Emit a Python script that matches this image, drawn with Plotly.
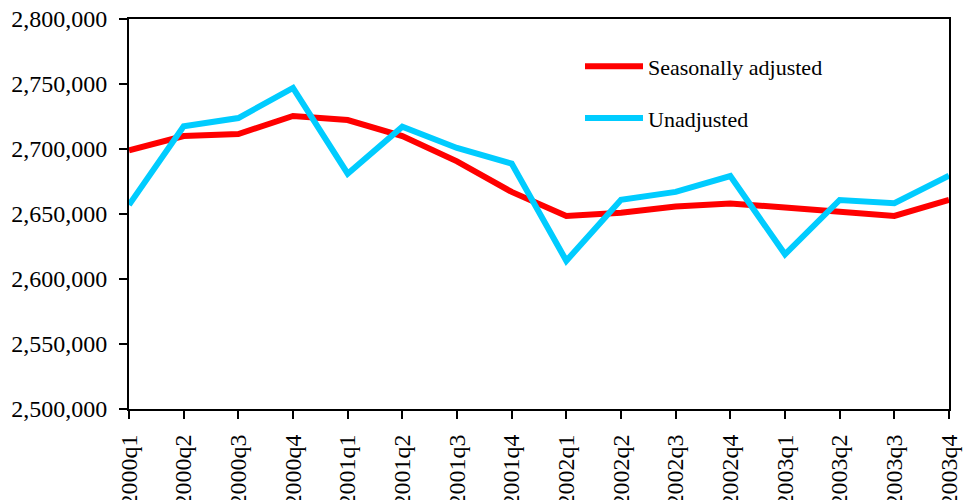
import plotly.graph_objects as go

quarters = ["2000q1", "2000q2", "2000q3", "2000q4",
            "2001q1", "2001q2", "2001q3", "2001q4",
            "2002q1", "2002q2", "2002q3", "2002q4",
            "2003q1", "2003q2", "2003q3", "2003q4"]

seasonally_adjusted = [2699000, 2710000, 2711500, 2725400,
                       2722300, 2710000, 2690500, 2667000,
                       2648500, 2651000, 2655800, 2658000,
                       2655000, 2651500, 2648500, 2660800]

unadjusted = [2657000, 2717500, 2723800, 2747000,
              2681000, 2717200, 2700800, 2688800,
              2614000, 2661000, 2667000, 2679200,
              2619000, 2660800, 2658300, 2679500]

y_ticks = [2500000, 2550000, 2600000, 2650000, 2700000, 2750000, 2800000]

RED = "#FF0000"
CYAN = "#00CCFF"
FONT = "Liberation Serif"

fig = go.Figure()
fig.add_trace(go.Scatter(x=quarters, y=seasonally_adjusted, mode="lines",
                         name="Seasonally adjusted", legendgroup="sa",
                         line=dict(color=RED, width=6)))
fig.add_trace(go.Scatter(x=quarters, y=unadjusted, mode="lines",
                         name="Unadjusted", legendgroup="ua",
                         line=dict(color=CYAN, width=6)))

fig.update_layout(
    width=973, height=500,
    margin=dict(l=129, r=24, t=19, b=91, autoexpand=False),
    paper_bgcolor="white", plot_bgcolor="white",
    font=dict(family=FONT, color="black", size=24),
    showlegend=True,
    legend=dict(x=0.55, y=0.932, xanchor="left", yanchor="top",
                bgcolor="rgba(0,0,0,0)", font=dict(size=22, family=FONT),
                itemwidth=58, traceorder="grouped", tracegroupgap=20),
    xaxis=dict(type="category", categoryorder="array", categoryarray=quarters,
               range=[0, len(quarters) - 1], showgrid=False, zeroline=False,
               showline=True, linecolor="black", linewidth=2, mirror=True,
               ticks="outside", ticklen=8, tickwidth=2, tickcolor="black",
               tickangle=-90, ticklabelstandoff=6, tickfont=dict(size=24),
               automargin=False),
    yaxis=dict(range=[2500000, 2800000], tickvals=y_ticks, tickformat=",d",
               showgrid=False, zeroline=False,
               showline=True, linecolor="black", linewidth=2, mirror=True,
               ticks="outside", ticklen=8, tickwidth=2, tickcolor="black",
               ticklabelstandoff=7, tickfont=dict(size=24), automargin=False),
)

fig.write_html("out.html")
